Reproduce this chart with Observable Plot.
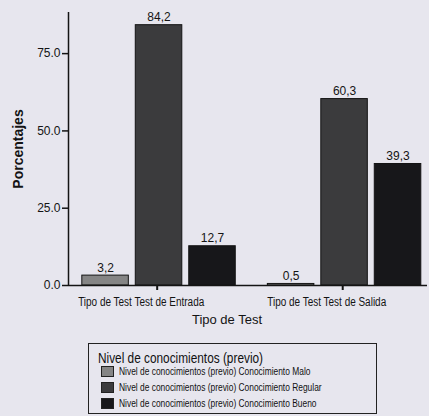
<!DOCTYPE html>
<html>
<head>
<meta charset="utf-8">
<script src="https://cdn.jsdelivr.net/npm/d3@7"></script>
<script src="https://cdn.jsdelivr.net/npm/@observablehq/plot@0.6"></script>
<style>
  html, body { margin: 0; padding: 0; background: #e7e6ee; }
  body { width: 429px; height: 416px; overflow: hidden; position: relative;
         font-family: "Liberation Sans", Arial, sans-serif; color: #111; }
  #chart svg { display: block; background: transparent; }
  .legend { position: absolute; left: 88px; top: 343px; width: 289px; height: 71px;
            border: 1px solid #222; box-sizing: border-box; }
  .legend .title { position: absolute; left: 9px; top: 7px; font-size: 14px; line-height: 14px;
                   white-space: nowrap; transform: scaleX(0.845); transform-origin: left center; }
  .legend .item { position: absolute; left: 12px; height: 11px; display: flex; align-items: center; white-space: nowrap; }
  .legend .sw { width: 13px; height: 11px; border: 1px solid #222; box-sizing: border-box; margin-right: 5px; flex: none; }
  .legend .lbl { font-size: 10.5px; line-height: 11px; transform: scaleX(0.8); transform-origin: left center; }
</style>
</head>
<body>
<div id="chart"></div>
<div class="legend" id="legend"></div>
<script>
// Tipo de Test (groups) and knowledge levels (series)
const groups = ["Test de Entrada", "Test de Salida"];
const levels = ["Conocimiento Malo", "Conocimiento Regular", "Conocimiento Bueno"];
const levelPrefix = "Nivel de conocimientos (previo)";
const xTitle = "Tipo de Test";
const yTitle = "Porcentajes";

// Percentages per level, one array per test
const entrada = [3.2, 84.2, 12.7];
const salida = [0.5, 60.3, 39.3];

// Axis ticks
const yTicks = [0, 25, 50, 75];
const xTicks = [0, 1];

const colors = ["#858585", "#3b3b3d", "#17171a"];

// Long table built from the arrays
const series = [entrada, salida];
const data = [];
groups.forEach((g, gi) => levels.forEach((l, li) => {
  data.push({group: g, gi, level: l, value: series[gi][li]});
}));

// Sub-band placement of the three bars inside each test group
const sub = d3.scaleBand().domain(levels).range([-0.49, 0.51]).paddingInner(0.13).paddingOuter(0.3);
data.forEach(d => {
  d.x1 = d.gi + sub(d.level);
  d.x2 = d.x1 + sub.bandwidth();
  d.xc = (d.x1 + d.x2) / 2;
});

const fmt = v => d3.format(".1f")(v).replace(".", ",");
const xMin = -0.478;
const ink = "#141414";
const groupLabel = i => xTitle + " " + groups[i];

const chart = Plot.plot({
  width: 429,
  height: 335,
  marginTop: 12,
  marginBottom: 50,
  marginLeft: 68,
  marginRight: 2,
  style: {background: "transparent", fontFamily: '"Liberation Sans", Arial, sans-serif', color: ink},
  x: {type: "linear", domain: [xMin, 1.457], axis: null},
  y: {domain: [0, 88.3], axis: null},
  color: {domain: levels, range: colors},
  marks: [
    Plot.rectY(data, {x1: "x1", x2: "x2", y: "value", fill: "level", stroke: ink, strokeWidth: 1}),
    Plot.text(data, {x: "xc", y: "value", text: d => fmt(d.value), lineAnchor: "bottom", dy: -4, fontSize: 12, fill: ink}),
    Plot.ruleY([0], {stroke: ink, strokeWidth: 1.5}),
    Plot.ruleX([xMin], {stroke: ink, strokeWidth: 1.5}),
    // y axis
    Plot.axisY({ticks: yTicks, tickFormat: d3.format(".1f"), tickSize: 6, tickPadding: 2, fontSize: 12,
      strokeWidth: 1.5, stroke: ink, fill: ink, label: null}),
    // x axis: tick marks, then labels
    Plot.axisX({ticks: xTicks, tickSize: 5, tickFormat: () => "", strokeWidth: 2, stroke: ink, label: null}),
    Plot.axisX({ticks: xTicks, tickSize: 0, tickPadding: 12, dx: -16, fontSize: 12, fill: ink, label: null,
      tickFormat: groupLabel}),
    Plot.text([yTitle], {frameAnchor: "left", textAnchor: "middle", rotate: -90, dx: -50, fontSize: 14, fontWeight: "bold", fill: ink}),
    Plot.text([xTitle], {frameAnchor: "bottom", dy: 38, dx: -21, fontSize: 13, fill: ink})
  ]
});
document.getElementById("chart").appendChild(chart);

// Narrow face for the category labels
const catLabels = new Set(xTicks.map(groupLabel));
chart.querySelectorAll("text").forEach(t => {
  if (!catLabels.has(t.textContent)) return;
  const len = t.getComputedTextLength();
  if (len > 0) {
    t.setAttribute("textLength", (len * 0.83).toFixed(1));
    t.setAttribute("lengthAdjust", "spacingAndGlyphs");
  }
});

// Legend
const legend = document.getElementById("legend");
const rowTops = [22, 38, 54];
legend.innerHTML = `<div class="title">${levelPrefix}</div>` +
  levels.map((l, i) => `<div class="item" style="top:${rowTops[i]}px"><span class="sw" style="background:${colors[i]}"></span><span class="lbl">${levelPrefix} ${l}</span></div>`).join("");
</script>
</body>
</html>
